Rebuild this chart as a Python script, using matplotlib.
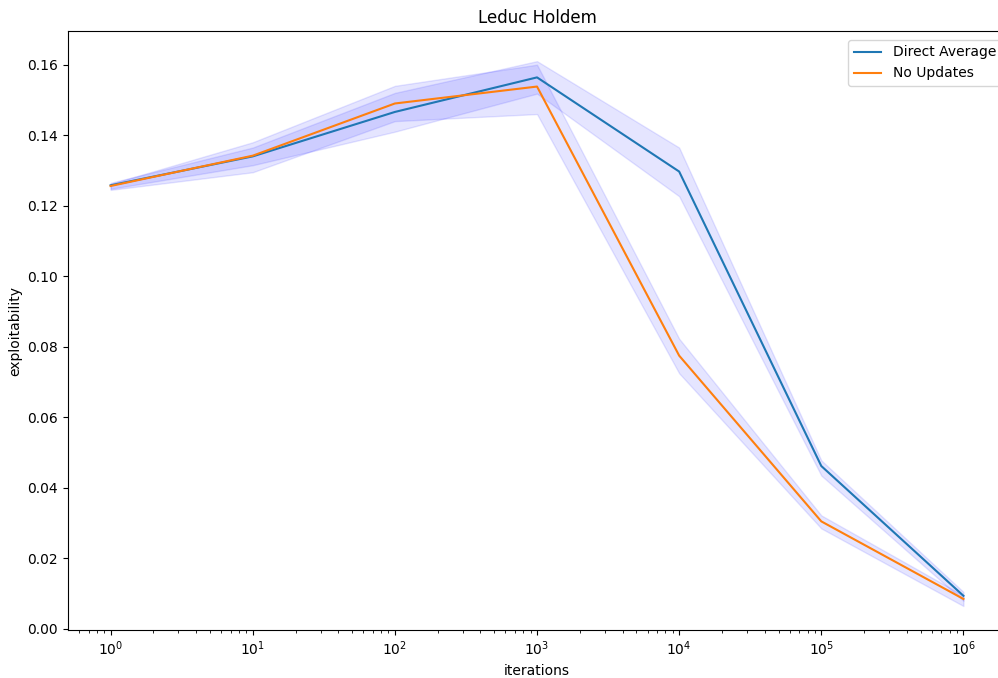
import numpy as np
import matplotlib
matplotlib.use("Agg")
import matplotlib.pyplot as plt

iterations = [1, 10, 100, 1000, 10000, 100000, 1000000]

direct_avg = [0.1258, 0.1340, 0.1466, 0.1564, 0.1297, 0.0462, 0.0094]
direct_lo = [0.1248, 0.1315, 0.1410, 0.1518, 0.1227, 0.0435, 0.0080]
direct_hi = [0.1265, 0.1365, 0.1520, 0.1610, 0.1365, 0.0478, 0.0105]

no_updates = [0.1256, 0.1342, 0.1490, 0.1538, 0.0775, 0.0305, 0.0085]
no_updates_lo = [0.1245, 0.1295, 0.1440, 0.1460, 0.0725, 0.0285, 0.0065]
no_updates_hi = [0.1262, 0.1380, 0.1540, 0.1600, 0.0823, 0.0322, 0.0095]

fig = plt.figure(figsize=(9.98, 6.78), dpi=100)
ax = fig.add_axes([0.0681, 0.0708, 0.940, 0.8832])

ax.plot(iterations, direct_avg, label="Direct Average")
ax.fill_between(iterations, direct_lo, direct_hi, color="blue", alpha=0.1)
ax.plot(iterations, no_updates, label="No Updates")
ax.fill_between(iterations, no_updates_lo, no_updates_hi, color="blue", alpha=0.1)

ax.set_xscale("log")
ax.set_xlim(10 ** -0.3, 10 ** 6.3)
ax.set_ylim(-0.0003, 0.1695)
ax.set_title("Leduc Holdem")
ax.set_xlabel("iterations")
ax.set_ylabel("exploitability")
ax.legend(loc="upper right", bbox_to_anchor=(1.0025, 0.997))

fig.savefig("out.png", dpi=100)
